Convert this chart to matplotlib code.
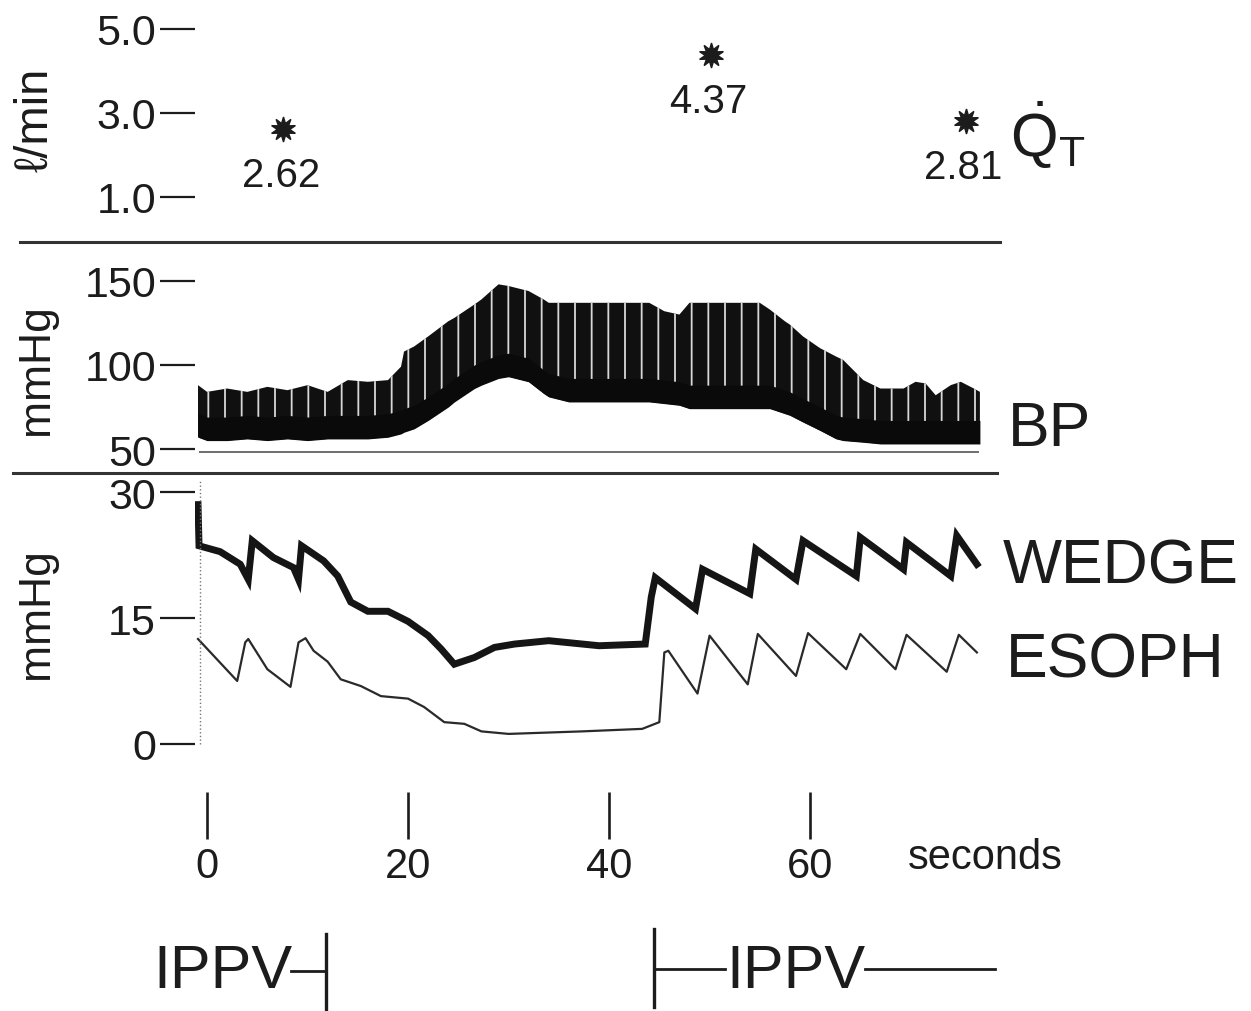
import matplotlib
matplotlib.use("Agg")
import matplotlib.pyplot as plt
from matplotlib.lines import Line2D

plt.rcParams['font.family'] = ['Liberation Sans', 'DejaVu Sans']
plt.rcParams['mathtext.fontset'] = 'custom'
plt.rcParams['mathtext.rm'] = 'Liberation Sans'
plt.rcParams['hatch.linewidth'] = 1.3

# cardiac output (l/min), read at the three measurement times
qt_t = [7.6, 50.1, 75.5]
qt_v = [2.62, 4.37, 2.81]
qt_lbl = ['2.62', '4.37', '2.81']

# arterial pressure envelopes (mmHg)
bp_t = [-0.9, 0, 2, 4, 6, 8, 10, 12, 14, 16, 18, 19.3, 19.6, 20.6, 22, 24, 24.6,
        26.6, 27.3, 29, 30, 32, 33.5, 34, 36, 40, 44, 45.5, 47, 48, 52, 55, 56,
        57.5, 58, 59.3, 61, 62.6, 63.3, 65.3, 67, 69.3, 70.5, 71.5, 72.5, 74, 75,
        76.3, 76.9]
bp_sys = [88, 84, 86, 84, 87, 85, 88, 84, 91, 90, 91, 99, 108, 111, 117, 126, 128,
          136, 139, 148, 147, 144, 139, 137, 137, 137, 137, 132, 130, 137, 137, 137, 133,
          126, 124, 117, 110, 105, 103, 91, 86, 86, 90, 89, 82, 88, 90,
          86, 84]
bp_dia = [57, 55, 55, 56, 55, 56, 55, 56, 56, 56, 57, 59, 60, 62, 67, 75, 78,
          86, 88, 92, 93, 90, 83, 81, 78, 78, 78, 77, 76, 74, 74, 74, 74,
          71, 70, 66, 61, 56, 55, 54, 53, 53, 53, 53, 53, 53, 53,
          53, 53]

# pulmonary wedge pressure (mmHg)
wedge_t = [-0.9, -0.8, 1.3, 3.3, 4.1, 4.5, 6.6, 8.6, 9.1, 9.4, 11.6, 13.0, 14.3,
           16.0, 18.0, 20.0, 22.0, 23.3, 24.6, 26.6, 28.6, 30.6, 34.0, 39.0, 43.6,
           44.2, 44.6, 48.6, 49.3, 54.0, 54.6, 58.6, 59.3, 64.6, 65.0, 69.3, 69.6,
           74.0, 74.6, 76.6]
wedge_v = [28.5, 23.6, 22.9, 21.4, 19.6, 24.2, 22.2, 21.0, 19.6, 23.6, 21.8, 20.0, 16.9,
           15.8, 15.8, 14.6, 12.9, 11.3, 9.5, 10.3, 11.5, 11.9, 12.3, 11.7, 11.9,
           17.5, 19.8, 16.1, 20.8, 17.9, 23.2, 19.6, 24.2, 20.0, 24.6, 20.8, 24.0,
           20.0, 24.8, 21.4]

# esophageal pressure (mmHg)
esoph_t = [-0.9, 3.0, 3.8, 4.1, 6.0, 8.3, 9.1, 9.8, 10.6, 12.0, 13.3, 15.3, 17.3,
           20.0, 21.6, 23.6, 25.6, 27.3, 30.0, 37.3, 43.3, 45.0, 45.5, 45.9, 48.8,
           50.0, 53.8, 54.8, 58.6, 59.8, 63.6, 65.0, 68.5, 69.6, 73.6, 74.8, 76.6]
esoph_v = [12.5, 7.5, 12.1, 12.5, 8.9, 6.8, 12.1, 12.6, 11.1, 9.8, 7.7, 6.9, 5.7,
           5.4, 4.4, 2.6, 2.4, 1.5, 1.2, 1.5, 1.8, 2.6, 10.9, 11.1, 6.0,
           12.9, 7.1, 13.1, 8.1, 13.2, 8.9, 13.1, 8.9, 13.0, 8.6, 13.0, 10.9]

time_ticks = [0, 20, 40, 60]
ippv_off = 11.8
ippv_on = 44.5

W, H = 1251, 1012
ink = '#1c1c1c'
XLIM = (-1.2, 78.9)

fig = plt.figure(figsize=(W / 100, H / 100), dpi=100)


def axes_px(left, top, right, bottom):
    return fig.add_axes([left / W, 1 - bottom / H, (right - left) / W, (bottom - top) / H])


def style(ax, ticks, labels):
    for s in ax.spines.values():
        s.set_visible(False)
    ax.set_xlim(*XLIM)
    ax.set_xticks([])
    ax.set_yticks(ticks)
    ax.set_yticklabels(labels)
    ax.tick_params(axis='y', length=25, width=1.6, pad=3, labelsize=31,
                   color=ink, labelcolor=ink)
    ax.patch.set_visible(False)


# top panel: cardiac output
ax1 = axes_px(195, 4.8, 1000, 240)
ax1.set_ylim(0, 5.6)
style(ax1, [1, 3, 5], ['1.0', '3.0', '5.0'])
ax1.plot(qt_t, qt_v, ls='none', marker=(10, 1, 0), ms=18, color=ink)
for t, v, s in zip(qt_t, qt_v, qt_lbl):
    ax1.annotate(s, (t, v), xytext=(-2, -33), textcoords='offset points',
                 ha='center', va='center', fontsize=29, color=ink)

# blood pressure
ax2 = axes_px(195, 245, 1000, 470)
ax2.set_ylim(38.1, 172.0)
style(ax2, [50, 100, 150], ['50', '100', '150'])
ax2.fill_between(bp_t, bp_dia, bp_sys, facecolor='#101010', edgecolor='#d8d8d8',
                 hatch='|', linewidth=0)
band_top = [d + 14 for d in bp_dia]
ax2.fill_between(bp_t, bp_dia, band_top, color='#0a0a0a', linewidth=0)
ax2.hlines(48.3, -0.8, 76.8, color='#555555', lw=1.2)

# wedge and esophageal pressure
ax3 = axes_px(195, 478, 1000, 790)
ax3.set_ylim(-5.36, 31.79)
style(ax3, [0, 15, 30], ['0', '15', '30'])
ax3.plot(wedge_t, wedge_v, color='#151515', lw=5, solid_joinstyle='miter')
ax3.plot(esoph_t, esoph_v, color='#2a2a2a', lw=1.6)
ax3.vlines(-0.75, 0, 31.5, color='#777777', lw=1.0, linestyles=':')

# time scale
ax4 = axes_px(195, 790, 1000, 840)
ax4.set_xlim(*XLIM)
ax4.set_ylim(0, 1)
for s in ax4.spines.values():
    s.set_visible(False)
ax4.set_yticks([])
ax4.set_xticks(time_ticks)
ax4.set_xticklabels([str(t) for t in time_ticks])
ax4.tick_params(axis='x', direction='in', length=34, width=1.9, pad=5,
                labelsize=30, color=ink, labelcolor=ink)
ax4.patch.set_visible(False)
fig.text(908 / W, 1 - 858 / H, 'seconds', fontsize=30, color=ink, va='center', ha='left')

# ventilation periods
ax5 = axes_px(195, 925, 1000, 1012)
ax5.set_xlim(*XLIM)
ax5.set_ylim(0, 1)
ax5.axis('off')
ax5.text(ippv_off - 3.3, 0.45, 'IPPV', fontsize=44, color=ink, ha='right', va='center')
ax5.plot([ippv_off - 3.4, ippv_off], [0.46, 0.46], color=ink, lw=2)
ax5.plot([ippv_off, ippv_off], [0.02, 0.88], color=ink, lw=2.4)
ax5.plot([ippv_on, ippv_on], [0.05, 0.94], color=ink, lw=2.4)
ax5.plot([ippv_on, ippv_on + 7.0], [0.48, 0.48], color=ink, lw=2)
ax5.text(ippv_on + 7.2, 0.45, 'IPPV', fontsize=44, color=ink, ha='left', va='center')
ax5.plot([ippv_on + 21.0, 78.4], [0.48, 0.48], color=ink, lw=2)

# separator lines between channels
fig.add_artist(Line2D([20 / W, 1000 / W], [1 - 243 / H] * 2, color='#333333', lw=2.2))
fig.add_artist(Line2D([13 / W, 997 / W], [1 - 474 / H] * 2, color='#333333', lw=2.2))

# channel labels
fig.text(1010 / W, 1 - 135 / H, r'$\dot{\mathrm{Q}}_\mathrm{T}$', fontsize=44,
         color=ink, ha='left', va='center')
fig.text(1008 / W, 1 - 430 / H, 'BP', fontsize=45, color=ink, ha='left', va='center')
fig.text(1003 / W, 1 - 567 / H, 'WEDGE', fontsize=45, color=ink, ha='left', va='center')
fig.text(1006 / W, 1 - 661 / H, 'ESOPH', fontsize=45, color=ink, ha='left', va='center')

fig.text(35 / W, 1 - 120 / H, 'ℓ/min', fontsize=34, color=ink, rotation=90,
         ha='center', va='center')
fig.text(37 / W, 1 - 370 / H, 'mmHg', fontsize=32, color=ink, rotation=90,
         ha='center', va='center')
fig.text(37 / W, 1 - 614 / H, 'mmHg', fontsize=32, color=ink, rotation=90,
         ha='center', va='center')

fig.savefig('out.png', dpi=100, facecolor='white')
